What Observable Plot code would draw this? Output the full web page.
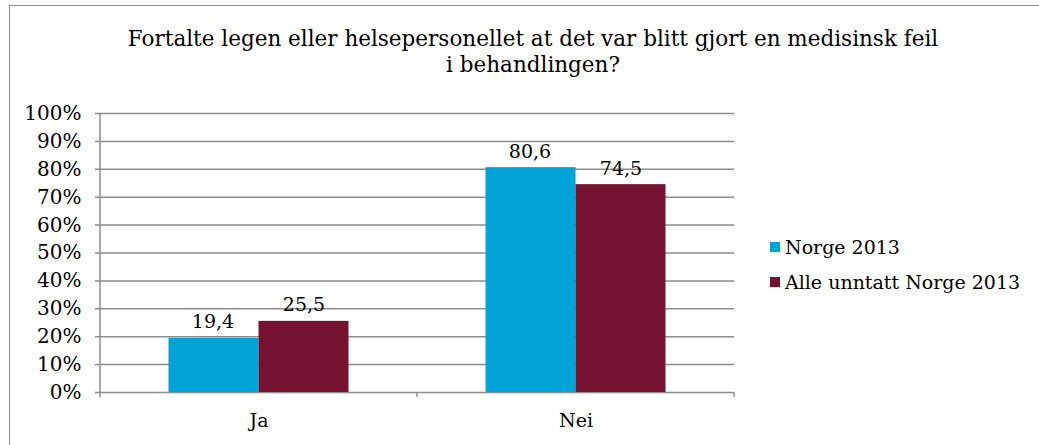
<!DOCTYPE html>
<html><head><meta charset="utf-8">
<script src="https://cdn.jsdelivr.net/npm/d3@7"></script>
<script src="https://cdn.jsdelivr.net/npm/@observablehq/plot@0.6"></script>
<style>
body{margin:0;background:#fff;font-family:"DejaVu Serif",serif;}
#wrap{position:relative;width:1039px;height:445px;overflow:hidden;}
#frame{position:absolute;left:9px;top:5px;width:1100px;height:500px;border-left:1.5px solid #8c8c8c;border-top:1.5px solid #8c8c8c;}
#title{position:absolute;left:80px;width:906px;top:26px;text-align:center;font-size:21.5px;line-height:26px;color:#000;white-space:nowrap;}
#legend{position:absolute;left:770px;top:229px;font-size:19px;color:#000;}
.item{display:flex;align-items:center;height:35px;}
.sw{width:10px;height:10px;margin-right:5px;}
svg{position:absolute;left:0;top:0;}
</style></head><body>
<div id="wrap">
<div id="frame"></div>
<div id="title">Fortalte legen eller helsepersonellet at det var blitt gjort en medisinsk feil<br>i behandlingen?</div>
<div id="chart"></div>
<div id="legend"></div>
</div>
<script>
const categories = ["Ja", "Nei"];
const seriesNames = ["Norge 2013", "Alle unntatt Norge 2013"];
const norge2013 = [19.4, 80.6];
const alleUnntatt = [25.5, 74.5];
const yTicks = [0,10,20,30,40,50,60,70,80,90,100];
const colors = ["#02a3d6", "#751131"];

const dataA = categories.map((c,i)=>({cat:c, v:norge2013[i]}));
const dataB = categories.map((c,i)=>({cat:c, v:alleUnntatt[i]}));
const fmt = v => v.toFixed(1).replace(".", ",");
const font = "DejaVu Serif";

const frameMark = (index, scales, values, dims) => {
  const g = d3.create("svg:g").attr("stroke", "#8c8c8c").attr("stroke-width", 1.5);
  const x0 = scales.x(categories[0]);
  const bw = scales.x.bandwidth();
  const yb = scales.y(0), yt = scales.y(100);
  g.append("line").attr("x1", x0).attr("x2", x0).attr("y1", yt).attr("y2", yb + 5);
  categories.forEach(c => {
    const xe = scales.x(c) + bw;
    g.append("line").attr("x1", xe).attr("x2", xe).attr("y1", yb).attr("y2", yb + 5);
  });
  return g.node();
};

const plot = Plot.plot({
  width: 1039, height: 445,
  marginLeft: 100, marginRight: 305, marginTop: 113, marginBottom: 53,
  style: {fontFamily: font, fontSize: "19px", color: "#000", background: "transparent"},
  x: {domain: categories, padding: 0, label: null},
  y: {domain: [0, 100], ticks: yTicks, label: null, tickFormat: d => d + "%"},
  marks: [
    Plot.ruleY(yTicks, {stroke: "#8c8c8c", strokeWidth: 1.5}),
    Plot.barY(dataA, {x: "cat", y: "v", fill: colors[0], insetLeft: 68.5, insetRight: 158.5}),
    Plot.barY(dataB, {x: "cat", y: "v", fill: colors[1], insetLeft: 158.5, insetRight: 68.5}),
    Plot.text(dataA, {x: "cat", y: "v", text: d => fmt(d.v), dx: -46, dy: -10, lineAnchor: "bottom", fontSize: 19, fill: "#000"}),
    Plot.text(dataB, {x: "cat", y: "v", text: d => fmt(d.v), dx: 45, dy: -10, lineAnchor: "bottom", fontSize: 19, fill: "#000"}),
    Plot.axisY({ticks: yTicks, tickFormat: d => d + "%", tickSize: 5, tickPadding: 14, stroke: "#8c8c8c", strokeWidth: 1.5, fontSize: 20, label: null}),
    Plot.axisX({tickSize: 0, tickPadding: 21, fontSize: 19, label: null}),
    frameMark
  ]
});
document.getElementById("chart").appendChild(plot);

const legend = document.getElementById("legend");
seriesNames.forEach((s,i) => {
  const it = document.createElement("div"); it.className = "item";
  const sw = document.createElement("div"); sw.className = "sw"; sw.style.background = colors[i];
  const t = document.createElement("span"); t.textContent = s;
  it.appendChild(sw); it.appendChild(t); legend.appendChild(it);
});
</script>
</body></html>
